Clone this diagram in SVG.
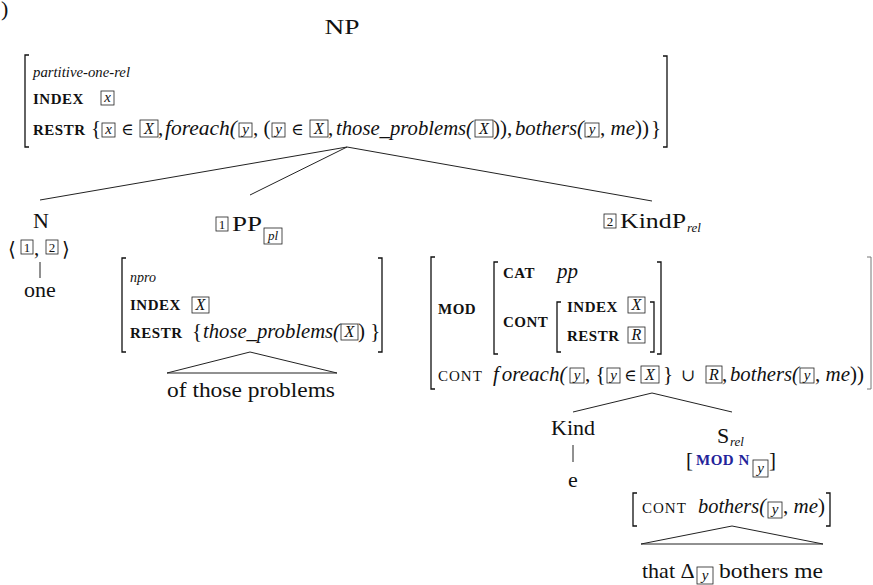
<svg xmlns="http://www.w3.org/2000/svg" width="873" height="585" viewBox="0 0 873 585">
<style>
text { font-family: "Liberation Serif", "DejaVu Serif", serif; fill: #111; }
.lb { font-size: 22px; }
.m { font-size: 21px; }
.it { font-style: italic; }
.mid { text-anchor: middle; }
.fs { font-size: 15px; font-weight: bold; letter-spacing: 0.5px; }
.fr { font-size: 15px; letter-spacing: 1px; }
.bi { font-size: 15px; font-style: italic; text-anchor: middle; }
.bu { font-size: 16px; font-style: italic; text-anchor: middle; }
.bn { font-size: 13px; text-anchor: middle; }
.sub { font-size: 13px; font-style: italic; }
.sym { font-family: "DejaVu Serif", serif; font-size: 17px; }
.ang { font-family: "DejaVu Serif", serif; font-size: 20px; }
.bx { fill: none; stroke: #222; stroke-width: 0.8; }
.br { fill: none; stroke: #111; stroke-width: 1.3; }
.ln { fill: none; stroke: #222; stroke-width: 1; }
.blue { fill: #23239a; }
</style>

<!-- stray closing parenthesis of the example number -->
<text class="lb" x="1" y="16">)</text>

<!-- root NP with its AVM -->
<g id="np">
  <text class="lb mid" x="342" y="34" textLength="35" lengthAdjust="spacingAndGlyphs">NP</text>
  <path class="br" d="M29,55 H25 V147 H29"/>
  <path class="br" d="M663,56 H667 V147 H663"/>
  <text class="it" x="33" y="77" font-size="14" textLength="97" lengthAdjust="spacingAndGlyphs">partitive-one-rel</text>
  <text class="fs" x="33" y="104">INDEX</text>
  <rect class="bx" x="101" y="91" width="13" height="14"/><text class="bi" x="107.5" y="102">x</text>
  <text class="fs" x="33" y="135">RESTR</text>
  <text class="m" x="91" y="135">{</text>
  <rect class="bx" x="102" y="123" width="13" height="14"/><text class="bi" x="108.5" y="134">x</text>
  <text class="sym" x="121" y="135">∈</text>
  <rect class="bx" x="140" y="120" width="18" height="17"/><text class="bu" x="149" y="134">X</text>
  <text class="m" x="158" y="135">,</text>
  <text class="m it" x="165" y="135" textLength="72" lengthAdjust="spacingAndGlyphs">foreach(</text>
  <rect class="bx" x="239" y="123" width="13" height="14"/><text class="bi" x="245.5" y="134">y</text>
  <text class="m" x="253" y="135">, (</text>
  <rect class="bx" x="272" y="123" width="13" height="14"/><text class="bi" x="278.5" y="134">y</text>
  <text class="sym" x="291" y="135">∈</text>
  <rect class="bx" x="310" y="120" width="18" height="17"/><text class="bu" x="319" y="134">X</text>
  <text class="m" x="328" y="135">,</text>
  <text class="m it" x="336" y="135" textLength="137" lengthAdjust="spacingAndGlyphs">those_problems(</text>
  <rect class="bx" x="475" y="120" width="18" height="17"/><text class="bu" x="484" y="134">X</text>
  <text class="m" x="493" y="135">)),</text>
  <text class="m it" x="515" y="135" textLength="69" lengthAdjust="spacingAndGlyphs">bothers(</text>
  <rect class="bx" x="585" y="123" width="14" height="14"/><text class="bi" x="592" y="134">y</text>
  <text class="m" x="600" y="135">, <tspan class="it">me</tspan>))</text>
  <text class="m" x="651" y="135">}</text>
</g>

<!-- head noun -->
<g id="n">
  <text class="lb mid" x="41" y="228">N</text>
  <text class="ang" x="8" y="256">⟨</text>
  <rect class="bx" x="21" y="240" width="12" height="14"/><text class="bn" x="27" y="252">1</text>
  <text class="m" x="34" y="255">,</text>
  <rect class="bx" x="46" y="240" width="12" height="14"/><text class="bn" x="52" y="252">2</text>
  <text class="ang" x="62" y="256">⟩</text>
  <text class="lb mid" x="40" y="297">one</text>
</g>

<!-- partitive PP -->
<g id="pp">
  <rect class="bx" x="216" y="217" width="12" height="14"/><text class="bn" x="222" y="229">1</text>
  <text class="lb" x="232" y="231" textLength="30" lengthAdjust="spacingAndGlyphs">PP</text>
  <rect class="bx" x="264" y="228" width="18" height="16"/><text class="sub" x="273" y="240" text-anchor="middle">pl</text>
  <path class="br" d="M126,258 H122 V352 H126"/>
  <path class="br" d="M378,258 H382 V352 H378"/>
  <text class="it" x="130" y="282" font-size="14">npro</text>
  <text class="fs" x="130" y="310">INDEX</text>
  <rect class="bx" x="192" y="297" width="17" height="16"/><text class="bu" x="200.5" y="310">X</text>
  <text class="fs" x="130" y="338">RESTR</text>
  <text class="m" x="192" y="338">{</text>
  <text class="m it" x="203" y="338" textLength="137" lengthAdjust="spacingAndGlyphs">those_problems(</text>
  <rect class="bx" x="341" y="324" width="17" height="16"/><text class="bu" x="349.5" y="337">X</text>
  <text class="m" x="358" y="338">) }</text>
  <text class="lb mid" x="251" y="397" textLength="168" lengthAdjust="spacingAndGlyphs">of those problems</text>
</g>

<!-- relative KindP -->
<g id="kindp">
  <rect class="bx" x="604" y="214" width="12" height="14"/><text class="bn" x="610" y="226">2</text>
  <text class="lb" x="620" y="228" textLength="66" lengthAdjust="spacingAndGlyphs">KindP</text>
  <text class="sub" x="687" y="232">rel</text>
  <path class="br" d="M435,257 H431 V389 H435"/>
  <path d="M867,257 H871 V389 H867" fill="none" stroke="#777" stroke-width="1"/>
  <text class="fs" x="438" y="314">MOD</text>
  <path class="br" d="M498,262 H494 V354 H498"/>
  <text class="fs" x="503" y="278">CAT</text>
  <text class="m it" x="557" y="278">pp</text>
  <text class="fs" x="503" y="327">CONT</text>
  <path class="br" d="M561,302 H557 V352 H561"/>
  <text class="fs" x="567" y="312">INDEX</text>
  <rect class="bx" x="628" y="297" width="17" height="16"/><text class="bu" x="636.5" y="310">X</text>
  <text class="fs" x="567" y="341">RESTR</text>
  <rect class="bx" x="628" y="327" width="17" height="16"/><text class="bu" x="636.5" y="340">R</text>
  <path class="br" d="M650,302 H654 V352 H650"/>
  <path class="br" d="M657,262 H661 V354 H657"/>
  <text class="fr" x="438" y="381">CONT</text>
  <text class="m it" x="493" y="381">f<tspan dx="3">oreach(</tspan></text>
  <rect class="bx" x="570" y="368" width="14" height="15"/><text class="bi" x="577" y="380">y</text>
  <text class="m" x="585" y="381">, {</text>
  <rect class="bx" x="607" y="368" width="13" height="15"/><text class="bi" x="613.5" y="380">y</text>
  <text class="sym" x="624" y="381">∈</text>
  <rect class="bx" x="641" y="366" width="18" height="17"/><text class="bu" x="650" y="380">X</text>
  <text class="m" x="663" y="381">}</text>
  <text class="sym" x="681" y="381">∪</text>
  <rect class="bx" x="706" y="366" width="16" height="17"/><text class="bu" x="714" y="380">R</text>
  <text class="m" x="722" y="381">,</text>
  <text class="m it" x="730" y="381" textLength="69" lengthAdjust="spacingAndGlyphs">bothers(</text>
  <rect class="bx" x="800" y="368" width="14" height="15"/><text class="bi" x="807" y="380">y</text>
  <text class="m" x="815" y="381">, <tspan class="it">me</tspan>))</text>
</g>

<!-- Kind head -->
<g id="kind">
  <text class="lb mid" x="573" y="435">Kind</text>
  <text class="lb mid" x="573" y="487">e</text>
</g>

<!-- relative clause -->
<g id="srel">
  <text class="lb" x="717" y="443">S</text>
  <text class="sub" x="730" y="446">rel</text>
  <text class="m" x="686" y="467">[</text>
  <text class="fs blue" x="696" y="465">MOD N</text>
  <rect class="bx" x="753" y="460" width="15" height="17"/><text class="bi" x="760.5" y="473">y</text>
  <text class="m" x="769" y="467">]</text>
  <path class="br" d="M637,493 H633 V526 H637"/>
  <path class="br" d="M826,493 H830 V526 H826"/>
  <text class="fr" x="642" y="513">CONT</text>
  <text class="m it" x="698" y="513" textLength="68" lengthAdjust="spacingAndGlyphs">bothers(</text>
  <rect class="bx" x="768" y="502" width="14" height="16"/><text class="bi" x="775" y="514">y</text>
  <text class="m" x="783" y="513">, <tspan class="it">me</tspan>)</text>
  <text class="lb" x="642" y="578">that Δ</text>
  <rect class="bx" x="697" y="567" width="16" height="17"/><text class="bi" x="705" y="580">y</text>
  <text class="lb" x="719" y="578" textLength="104" lengthAdjust="spacingAndGlyphs">bothers me</text>
</g>

<!-- tree branches and triangles -->
<g id="connectors">
  <path class="ln" d="M347,147 L40,200"/>
  <path class="ln" d="M347,147 L250,195"/>
  <path class="ln" d="M347,147 L652,201"/>
  <path class="ln" d="M40,262 V278"/>
  <path class="ln" d="M250,352 L167,373 L337,373 Z"/>
  <path class="ln" d="M573,412 L652,393 L732,412"/>
  <path class="ln" d="M573,445 V462"/>
  <path class="ln" d="M732,526 L641,544 L823,544 Z"/>
</g>
</svg>
